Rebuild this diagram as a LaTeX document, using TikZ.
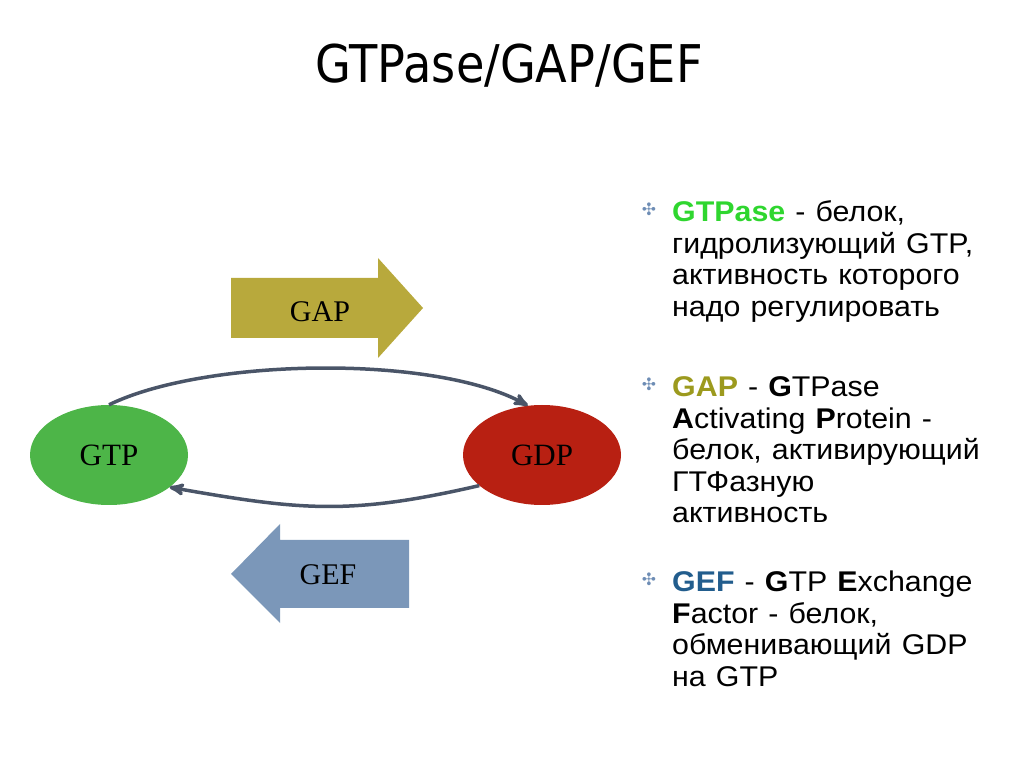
\documentclass[tikz,border=0pt]{standalone}
\usepackage{fontspec}
\setmainfont{Liberation Serif}
\setsansfont{Liberation Sans}
\newfontfamily\titlefont{DejaVu Sans}
\newfontfamily\dingfont{DejaVu Sans}
\usetikzlibrary{arrows, shapes.geometric}

\definecolor{gtpgreen}{HTML}{4DB548}
\definecolor{gdpred}{HTML}{B82012}
\definecolor{gapolive}{HTML}{B8A93C}
\definecolor{gefblue}{HTML}{7B97B9}
\definecolor{cyclegray}{HTML}{4A5568}
\definecolor{txtgreen}{HTML}{2FD62F}
\definecolor{txtolive}{HTML}{9C9A1E}
\definecolor{txtblue}{HTML}{225D8D}
\definecolor{bulletblue}{HTML}{6E8DB5}

\begin{document}
\begin{tikzpicture}[x=1pt, y=1pt, >=stealth',
  nucleotide/.style={ellipse, inner sep=0pt, minimum width=158pt, minimum height=100pt,
    font=\fontsize{31}{31}\selectfont},
  arrow label/.style={font=\fontsize{30}{30}\selectfont},
  cycle arrow/.style={->, draw=cyclegray, line width=3.5pt},
  bullet/.style={text=bulletblue, inner sep=0pt, font=\dingfont\fontsize{17}{17}\selectfont},
  bullet item/.style={anchor=base west, inner sep=0pt, text width=330pt, align=left,
    xscale=1.065, font=\sffamily\fontsize{28.5}{31.5}\selectfont}]

  \useasboundingbox (0,0) rectangle (1024,768);

  % title
  \node[anchor=base, xscale=0.89, font=\titlefont\fontsize{52}{52}\selectfont] (title) at (509,685) {GTPase/GAP/GEF};

  % GAP and GEF arrows
  \fill[gapolive] (231,490) -- (378,490) -- (378,510) -- (423,460) -- (378,410) -- (378,430) -- (231,430) -- cycle;
  \node[arrow label] (gap) at (320,456) {GAP};
  \fill[gefblue] (409,228) -- (280,228) -- (280,244) -- (231,194) -- (280,145) -- (280,160) -- (409,160) -- cycle;
  \node[arrow label] (gef) at (328,193) {GEF};

  % GTP / GDP
  \node[nucleotide, fill=gtpgreen] (gtp) at (109,313) {GTP};
  \node[nucleotide, fill=gdpred] (gdp) at (542,313) {GDP};

  \draw[cycle arrow] (gtp.north) to[out=26, in=151, looseness=0.65] (gdp.106);
  \draw[cycle arrow] (gdp.206) to[out=193, in=-10, looseness=1.1] (gtp.332);

  % bullets
  \node[bullet] (b1) at (649,559) {✣};
  \node[bullet item] (gtpase) at (672,546) {{\color{txtgreen}\textbf{GTPase}} - белок,\\ гидролизующий GTP,\\ активность которого\\ надо регулировать};
  \node[bullet] (b2) at (649,384) {✣};
  \node[bullet item] (gapitem) at (672,371) {{\color{txtolive}\textbf{GAP}} - \textbf{G}TPase\\ \textbf{A}ctivating \textbf{P}rotein -\\ белок, активирующий\\ ГТФазную\\ активность};
  \node[bullet] (b3) at (649,189) {✣};
  \node[bullet item] (gefitem) at (672,176) {{\color{txtblue}\textbf{GEF}} - \textbf{G}TP \textbf{E}xchange\\ \textbf{F}actor - белок,\\ обменивающий GDP\\ на GTP};

\end{tikzpicture}
\end{document}
